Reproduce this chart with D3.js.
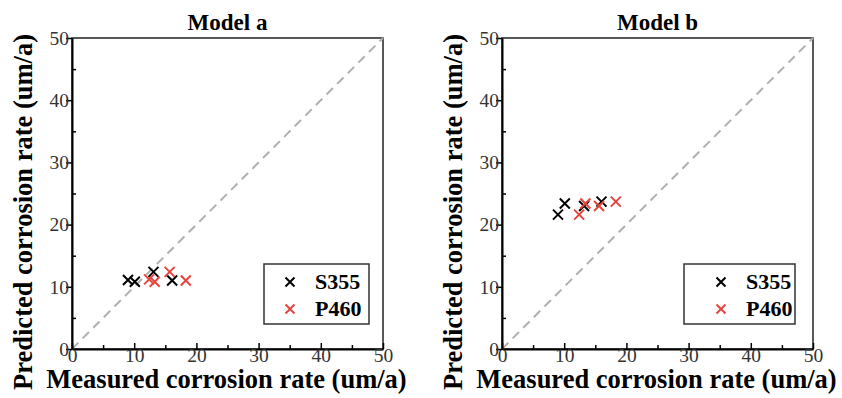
<!DOCTYPE html>
<html>
<head>
<meta charset="utf-8">
<script src="https://cdn.jsdelivr.net/npm/d3@7"></script>
<style>
  body { margin: 0; background: #fff; }
  svg { display: block; }
</style>
</head>
<body>
<div id="chart"></div>
<script>
// Data
const seriesNames = ["S355", "P460"];
const seriesColors = ["#000000", "#e5453f"];
const majorTicks = [0, 10, 20, 30, 40, 50];
const minorTicks = [5, 15, 25, 35, 45];

// Model a
const aS355 = [[9.0, 11.1], [10.1, 10.8], [13.1, 12.4], [16.1, 11.0]];
const aP460 = [[12.4, 11.2], [13.3, 10.8], [15.7, 12.4], [18.3, 11.0]];
// Model b
const bS355 = [[9.0, 21.6], [10.1, 23.4], [13.2, 23.0], [16.0, 23.7]];
const bP460 = [[12.4, 21.6], [13.4, 23.4], [15.6, 23.0], [18.3, 23.7]];

const panels = [
    { title: "Model a", left: 72, series: [aS355, aP460], legend: { x: 264, w: 105, mark: 26, text: 51 } },
    { title: "Model b", left: 502, series: [bS355, bP460], legend: { x: 684, w: 111, mark: 37, text: 62 } }
];

const size = 311;
const plotTop = 38;
const serif = "Liberation Serif";

const svg = d3.select("#chart")
    .append("svg")
    .attr("width", 842)
    .attr("height", 398)
    .attr("font-family", serif);

function cross(g, cx, cy, r, color) {
    g.append("path")
        .attr("d", `M${cx - r},${cy - r}L${cx + r},${cy + r}M${cx - r},${cy + r}L${cx + r},${cy - r}`)
        .attr("stroke", color)
        .attr("stroke-width", 2)
        .attr("fill", "none");
}

panels.forEach(p => {
    const x = d3.scaleLinear().domain([0, 50]).range([0, size]);
    const y = d3.scaleLinear().domain([0, 50]).range([size, 0]);

    const g = svg.append("g")
        .attr("transform", "translate(" + p.left + "," + plotTop + ")");

    // frame
    g.append("rect")
        .attr("width", size)
        .attr("height", size)
        .attr("fill", "none")
        .attr("stroke", "#222")
        .attr("stroke-width", 1.5);

    // diagonal 1:1 line
    g.append("line")
        .attr("x1", x(0)).attr("y1", y(0))
        .attr("x2", x(50)).attr("y2", y(50))
        .attr("stroke", "#b0b0b0")
        .attr("stroke-width", 2)
        .attr("stroke-dasharray", "9,6");

    // x axis: ticks pointing inside
    const xa = g.append("g")
        .attr("transform", "translate(0," + size + ")")
        .call(d3.axisBottom(x).tickValues(majorTicks).tickSize(-6).tickSizeOuter(0).tickPadding(-1));
    g.append("g")
        .attr("transform", "translate(0," + size + ")")
        .call(d3.axisBottom(x).tickValues(minorTicks).tickSize(-4).tickFormat(""))
        .select(".domain").remove();

    // y axis: major out, minor in
    const ya = g.append("g")
        .call(d3.axisLeft(y).tickValues(majorTicks).tickSize(6).tickSizeOuter(0).tickPadding(-3));
    g.append("g")
        .call(d3.axisLeft(y).tickValues(minorTicks).tickSize(-4).tickFormat(""))
        .select(".domain").remove();

    [xa, ya].forEach(a => {
        a.attr("font-family", serif).attr("font-size", 19.5);
        a.select(".domain").attr("stroke", "#000").attr("stroke-width", 2);
        a.selectAll("text").attr("fill", "#333");
    });
    g.selectAll(".tick line").attr("stroke", "#000").attr("stroke-width", 1.5);
    xa.selectAll("text").attr("dy", "0.7em");

    // points
    p.series.forEach((pts, i) => {
        pts.forEach(d => cross(g, x(d[0]), y(d[1]), 5, seriesColors[i]));
    });

    // legend
    const lg = svg.append("g");
    lg.append("rect")
        .attr("x", p.legend.x)
        .attr("y", 264)
        .attr("width", p.legend.w)
        .attr("height", 60)
        .attr("fill", "#fff")
        .attr("stroke", "#333")
        .attr("stroke-width", 1.5);
    seriesNames.forEach((name, i) => {
        const cy = 282 + i * 27;
        cross(lg, p.legend.x + p.legend.mark, cy, 4.5, seriesColors[i]);
        lg.append("text")
            .attr("x", p.legend.x + p.legend.text)
            .attr("y", cy + 7)
            .attr("font-family", serif)
            .attr("font-size", 22)
            .attr("font-weight", "bold")
            .text(name);
    });

    // titles
    svg.append("text")
        .attr("x", p.left + size / 2)
        .attr("y", 30)
        .attr("text-anchor", "middle")
        .attr("font-family", serif)
        .attr("font-size", 23)
        .attr("font-weight", "bold")
        .text(p.title);

    svg.append("text")
        .attr("x", p.left + size / 2 - 1)
        .attr("y", 388)
        .attr("text-anchor", "middle")
        .attr("font-family", serif)
        .attr("font-size", 26.5)
        .attr("font-weight", "bold")
        .text("Measured corrosion rate (um/a)");

    svg.append("text")
        .attr("transform", "translate(" + (p.left - 40) + ",212) rotate(-90)")
        .attr("text-anchor", "middle")
        .attr("font-family", serif)
        .attr("font-size", 26.5)
        .attr("font-weight", "bold")
        .text("Predicted corrosion rate (um/a)");
});
</script>
</body>
</html>
